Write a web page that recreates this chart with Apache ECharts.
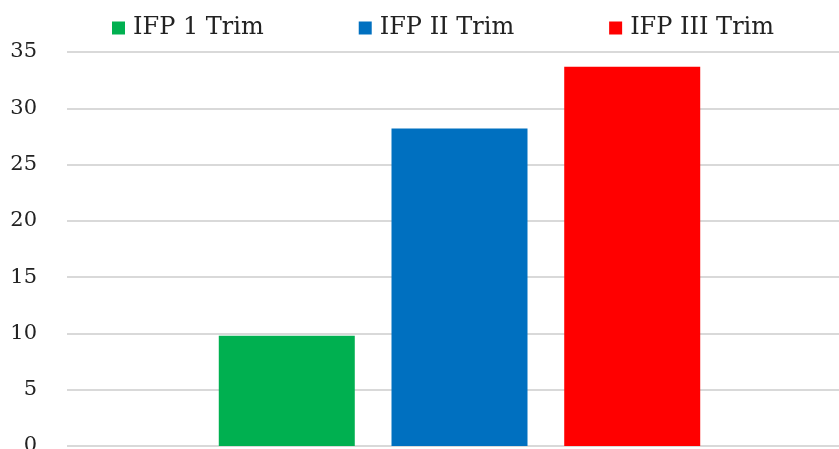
<html>
<head>
    <meta charset="utf-8" />
    <title>IFP Trim</title>
    <script src="https://cdn.jsdelivr.net/npm/echarts@6/dist/echarts.min.js"></script>
</head>
<body style="margin:0">
    <div id="chart" style="width: 839px;height:449px;"></div>
    <script type="text/javascript">
        var categories = ['IFP'];
        var seriesNames = ['IFP 1 Trim', 'IFP II Trim', 'IFP III Trim'];
        var seriesValues = [9.8, 28.2, 33.7];
        var seriesColors = ['#00b050', '#0070c0', '#ff0000'];
        var yTicks = { min: 0, max: 35, interval: 5 };

        var chart = echarts.init(document.getElementById('chart'));
        var font = 'DejaVu Serif';

        var series = seriesNames.map(function (name, i) {
            return {
                name: name,
                type: 'bar',
                data: [seriesValues[i]],
                barWidth: 136,
                barGap: '27%',
                itemStyle: { color: seriesColors[i] }
            };
        });

        var option = {
            animation: false,
            backgroundColor: '#ffffff',
            legend: {
                top: 11,
                left: 107,
                itemWidth: 13,
                itemHeight: 13,
                itemGap: 95,
                icon: 'rect',
                textStyle: { fontFamily: font, fontSize: 24, color: '#222', padding: [0, 0, 0, 3] }
            },
            grid: { left: 67, right: -13, top: 52, bottom: 3, outerBoundsMode: 'none' },
            xAxis: {
                type: 'category',
                data: categories,
                axisLine: { show: false },
                axisTick: { show: false },
                axisLabel: { show: false }
            },
            yAxis: {
                type: 'value',
                min: yTicks.min,
                max: yTicks.max,
                interval: yTicks.interval,
                axisLine: { show: false },
                axisTick: { show: false },
                axisLabel: { margin: 30, fontFamily: font, fontSize: 21, color: '#222' },
                splitLine: { lineStyle: { color: '#d9d9d9', width: 2 } }
            },
            series: series
        };
        chart.setOption(option);
    </script>
</body>
</html>
